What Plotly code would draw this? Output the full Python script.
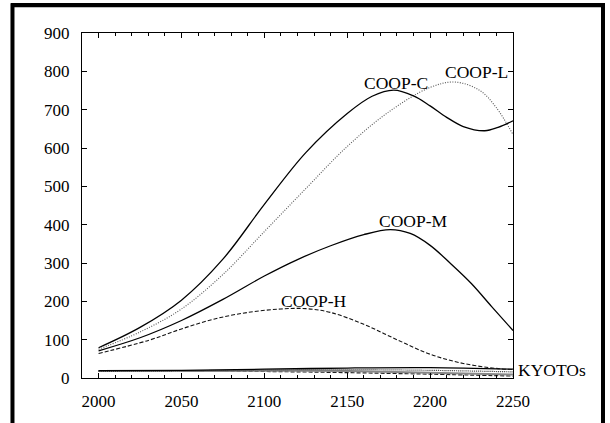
import plotly.graph_objects as go

# ---- data ----
c_years = [2000, 2025, 2050, 2075, 2100, 2125, 2150, 2165, 2178, 2190, 2200, 2210, 2220, 2233, 2241, 2250]
c_vals  = [79, 132, 203, 310, 453, 588, 690, 735, 751, 736, 710, 680, 656, 645, 654, 671]

l_years = [2000, 2025, 2050, 2075, 2100, 2125, 2150, 2175, 2200, 2215, 2230, 2240, 2250]
l_vals  = [75, 120, 180, 270, 382, 494, 604, 694, 758, 772, 750, 705, 635]

m_years = [2000, 2025, 2050, 2075, 2100, 2120, 2140, 2160, 2176, 2188, 2200, 2212, 2225, 2237, 2250]
m_vals  = [71, 105, 150, 205, 266, 309, 345, 374, 387, 377, 346, 300, 246, 187, 124]

h_years = [2000, 2030, 2050, 2070, 2090, 2110, 2125, 2140, 2160, 2180, 2200, 2220, 2240, 2250]
h_vals  = [64, 98, 128, 154, 171, 180, 181, 171, 140, 100, 62, 38, 25, 22]

k_years = [2000, 2050, 2100, 2150, 2200, 2250]
k_a = [19, 20, 23, 26, 27, 23]
k_b = [18, 19, 21, 22, 20, 16]
k_c = [18, 18, 19, 18, 14, 9]
k_d = [18, 18, 17, 14, 10, 5]

labels = ["COOP-C", "COOP-L", "COOP-M", "COOP-H"]
label_x = [2179.5, 2227.9, 2189.8, 2129.7]
label_y = [769, 797, 408.6, 200]
kyoto_label = "KYOTOs"
kyoto_label_y = 20.7

x_ticks = [2000, 2050, 2100, 2150, 2200, 2250]
y_ticks = [0, 100, 200, 300, 400, 500, 600, 700, 800, 900]

FONT = "Liberation Serif, Times New Roman, serif"

fig = go.Figure()

def add(x, y, dash="solid", color="black", width=1.2):
    fig.add_trace(go.Scatter(x=x, y=y, mode="lines",
                             line=dict(color=color, width=width, dash=dash,
                                       shape="spline", smoothing=1.0),
                             showlegend=False, hoverinfo="skip"))

# KYOTO bundle
add(k_years, k_d, dash="4px,2px", color="#222")
add(k_years, k_c, color="#888", width=2)
add(k_years, k_b, dash="1px,1px", color="#333")
add(k_years, k_a, color="black", width=1.3)

# COOP scenarios
add(h_years, h_vals, dash="4px,2px", color="#111", width=1.1)
add(m_years, m_vals, color="black", width=1.3)
add(l_years, l_vals, dash="1px,1.5px", color="#555", width=1.1)
add(c_years, c_vals, color="black", width=1.3)

for t, x, y in zip(labels, label_x, label_y):
    fig.add_annotation(x=x, y=y, text=t, showarrow=False,
                       xanchor="center", yanchor="middle",
                       font=dict(family=FONT, size=17.5, color="black"))
fig.add_annotation(xref="paper", x=1.008, y=kyoto_label_y, text=kyoto_label,
                   showarrow=False, xanchor="left", yanchor="middle",
                   font=dict(family=FONT, size=17.5, color="black"))

# outer frame (open at the bottom, as in the reference crop)
FL, FR, FT, FB = -0.1613, 1.2088, 1.0805, -0.16
frame = dict(color="black", width=4)
fig.add_shape(type="rect", xref="paper", yref="paper", x0=FL, x1=FR, y0=FB, y1=FT,
              line=frame, fillcolor="rgba(0,0,0,0)", layer="above")
# top edge of the frame, drawn again as a thin black box
fig.add_annotation(xref="paper", yref="paper", x=(FL + FR) / 2, y=FT,
                   text=" ", showarrow=False, xanchor="center", yanchor="middle",
                   width=594, height=4, bgcolor="black", borderpad=0,
                   borderwidth=0, font=dict(size=2, color="black"))

fig.update_layout(
    width=610, height=423,
    margin=dict(l=82, r=97, t=33, b=42),
    paper_bgcolor="white", plot_bgcolor="white",
    font=dict(family=FONT, size=17, color="black"),
    showlegend=False,
)
fig.update_xaxes(range=[1990, 2250], tickvals=x_ticks, ticktext=[str(v) for v in x_ticks],
                 showgrid=False, zeroline=False, showline=True, linecolor="black",
                 linewidth=1, mirror="ticks", ticks="inside", ticklen=5,
                 tickcolor="black", ticklabelstandoff=8,
                 minor=dict(dtick=10, tick0=2000, ticks="inside", ticklen=3,
                            tickcolor="black", showgrid=False),
                 tickfont=dict(family=FONT, size=17, color="black"))
fig.update_yaxes(range=[0, 900], tickvals=y_ticks, ticktext=[str(v) for v in y_ticks],
                 showgrid=False, zeroline=False, showline=True, linecolor="black",
                 linewidth=1, mirror="ticks", ticks="inside", ticklen=5,
                 tickcolor="black", ticklabelstandoff=8,
                 tickfont=dict(family=FONT, size=17, color="black"))

fig.write_html("out.html", config={"displayModeBar": False, "staticPlot": True},
               post_script="document.documentElement.style.margin='0';"
                           "document.body.style.margin='0';"
                           "document.body.style.padding='0';"
                           "window.scrollTo(0,0);")
